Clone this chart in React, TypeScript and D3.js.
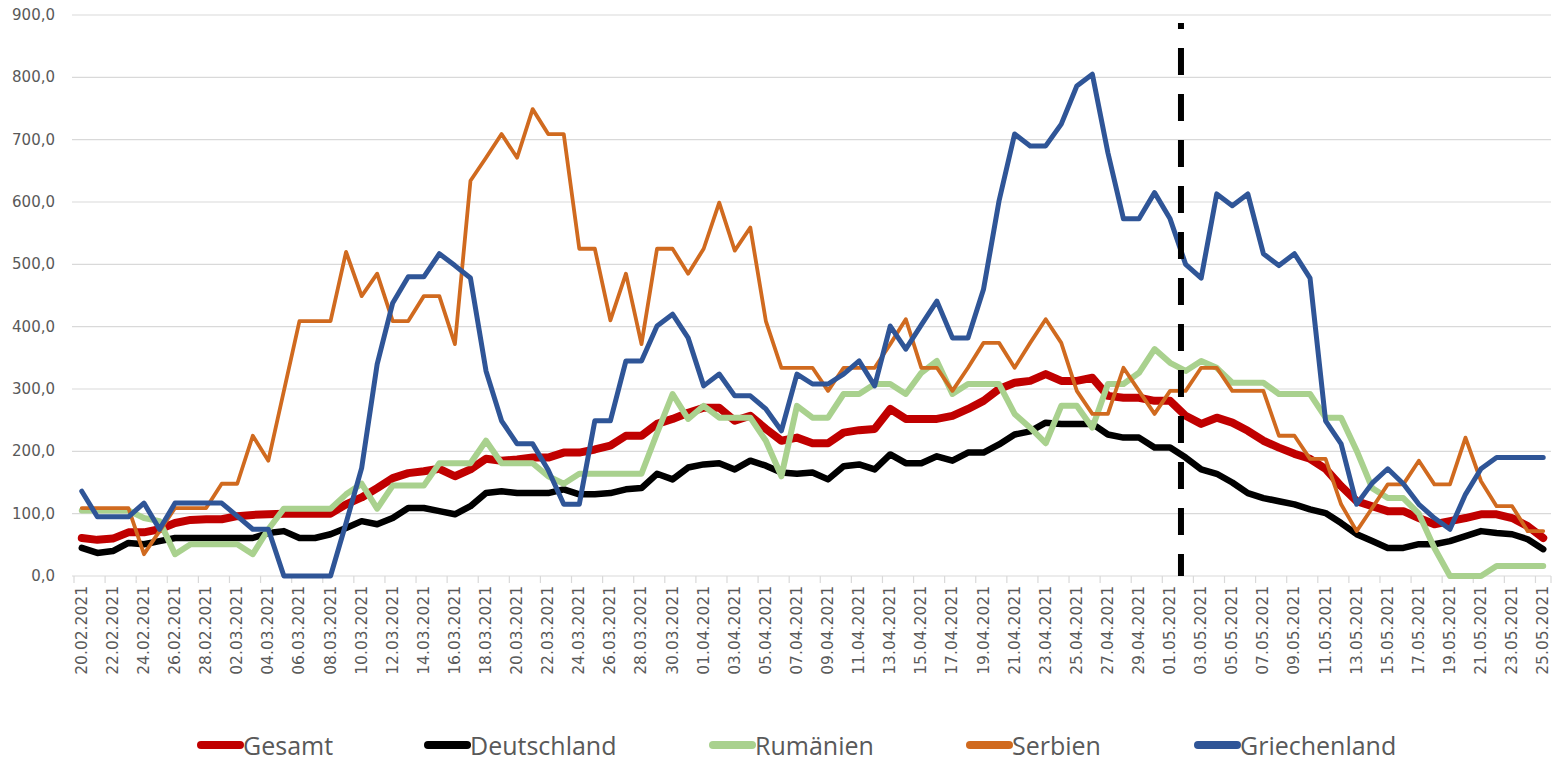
import React from "react";
import * as d3 from "d3";

// categories: one per day, 20.02.2021 – 25.05.2021
const fmtDate = d3.timeFormat("%d.%m.%Y");
const dates: string[] = d3.timeDay
  .range(new Date(2021, 1, 20), new Date(2021, 4, 26))
  .map((d) => fmtDate(d));

// series values
const gesamt = [
  61, 58, 60, 70, 70, 75, 85, 90, 91, 91,
  96, 98, 99, 100, 100, 100, 100, 115, 126, 141,
  157, 165, 168, 172, 160, 171, 188, 185, 187, 190,
  190, 198, 198, 203, 209, 225, 225, 244, 252, 262,
  270, 270, 249, 257, 236, 217, 222, 213, 213, 230,
  234, 236, 268, 252, 252, 252, 257, 268, 281, 300,
  310, 313, 324, 313, 313, 318, 289, 286, 286, 281,
  281, 257, 244, 254, 246, 233, 217, 206, 196, 188,
  172, 144, 120, 112, 104, 104, 93, 83, 88, 93,
  99, 99, 93, 80, 61,
];
const deutschland = [
  45, 37, 40, 53, 51, 56, 61, 61, 61, 61,
  61, 61, 69, 72, 61, 61, 67, 77, 88, 83,
  93, 109, 109, 104, 99, 112, 133, 136, 133, 133,
  133, 139, 131, 131, 133, 139, 141, 164, 155, 174,
  179, 181, 171, 185, 177, 166, 164, 166, 155, 176,
  179, 171, 195, 181, 181, 192, 185, 198, 198, 211,
  227, 232, 246, 244, 244, 244, 227, 222, 222, 206,
  206, 190, 171, 164, 150, 133, 125, 120, 115, 107,
  101, 85, 67, 56, 45, 45, 51, 51, 56, 64,
  72, 69, 67, 59, 43,
];
const rumaenien = [
  105, 105, 105, 105, 93, 88, 35, 51, 51, 51,
  51, 35, 75, 108, 108, 108, 108, 131, 148, 108,
  145, 145, 145, 181, 181, 181, 217, 181, 181, 181,
  160, 148, 164, 164, 164, 164, 164, 229, 292, 252,
  273, 254, 254, 254, 217, 160, 273, 254, 254, 292,
  292, 308, 308, 292, 326, 345, 292, 308, 308, 308,
  260, 238, 213, 273, 273, 238, 308, 308, 326, 364,
  342, 329, 345, 334, 310, 310, 310, 292, 292, 292,
  254, 254, 201, 141, 125, 125, 100, 45, 0, 0,
  0, 16, 16, 16, 16,
];
const serbien = [
  109, 109, 109, 109, 35, 72, 109, 109, 109, 148,
  148, 225, 185, 297, 409, 409, 409, 520, 449, 485,
  409, 409, 449, 449, 372, 634, 671, 709, 671, 749,
  709, 709, 525, 525, 410, 485, 372, 525, 525, 485,
  525, 599, 522, 559, 409, 334, 334, 334, 297, 334,
  334, 334, 372, 412, 334, 334, 297, 334, 374, 374,
  334, 374, 412, 374, 297, 260, 260, 334, 297, 260,
  297, 297, 334, 334, 297, 297, 297, 225, 225, 188,
  188, 115, 72, 109, 147, 147, 185, 147, 147, 222,
  152, 112, 112, 72, 72,
];
const griechenland = [
  136, 95, 95, 95, 117, 75, 117, 117, 117, 117,
  96, 75, 75, 0, 0, 0, 0, 85, 173, 340,
  438, 480, 480, 517, 498, 478, 329, 249, 212, 212,
  170, 115, 115, 249, 249, 345, 345, 401, 420, 382,
  305, 324, 289, 289, 268, 233, 324, 308, 308, 324,
  345, 305, 401, 364, 403, 441, 382, 382, 460, 602,
  709, 690, 690, 725, 786, 805, 679, 573, 573, 615,
  573, 500, 478, 613, 594, 613, 517, 498, 517, 478,
  249, 212, 115, 149, 172, 148, 115, 93, 75, 131,
  172, 190, 190, 190, 190,
];

const seriesNames = ["Gesamt", "Deutschland", "Rumänien", "Serbien", "Griechenland"];
const seriesValues = [gesamt, deutschland, rumaenien, serbien, griechenland];
const yTicks = [0, 100, 200, 300, 400, 500, 600, 700, 800, 900];

// dashed marker: just after 01.05.2021
const markerDate = "01.05.2021";
const markerOffset = 0.7;
const markerTop = 887;

// styles
const colors = ["#C00000", "#000000", "#A9D18E", "#D06A1F", "#2F5597"];
const widths = [8, 6.5, 6, 3.8, 5];
const legendX = [198, 425, 710, 967, 1195];

const W = 1557;
const H = 761;

export default function App() {
  const x = d3.scaleBand<string>().domain(dates).range([74, 1551]);
  const bw = x.bandwidth();
  const cx = (d: string) => (x(d) as number) + bw / 2;
  const y = d3.scaleLinear().domain([0, 900]).range([576, 15]);

  const line = d3
    .line<number>()
    .x((_, i) => cx(dates[i]))
    .y((v) => y(v));

  const fmtY = (v: number) => d3.format(".1f")(v).replace(".", ",");
  const markerX = cx(markerDate) + markerOffset * bw;

  return (
    <svg
      width={W}
      height={H}
      style={{ position: "absolute", left: 0, top: 0, background: "#fff" }}
    >
      {/* gridlines + y labels */}
      {yTicks.map((t) => (
        <g key={t}>
          <line x1={72} x2={1551} y1={y(t)} y2={y(t)} stroke="#D9D9D9" strokeWidth={1.2} />
          <text
            x={55}
            y={y(t)}
            textAnchor="end"
            dominantBaseline="central"
            fontFamily="DejaVu Sans"
            fontSize={15}
            fill="#595959"
          >
            {fmtY(t)}
          </text>
        </g>
      ))}

      {/* x ticks (between categories, every 2nd) and labels */}
      {dates.map((d, i) =>
        i % 2 === 0 ? (
          <g key={d}>
            <line x1={x(d)} x2={x(d)} y1={576} y2={583} stroke="#D9D9D9" strokeWidth={1.2} />
            <text
              transform={`translate(${cx(d)},586) rotate(-90)`}
              textAnchor="end"
              dominantBaseline="central"
              fontFamily="DejaVu Sans"
              fontSize={15.5}
              fill="#595959"
            >
              {d}
            </text>
          </g>
        ) : null
      )}
      <line x1={1551} x2={1551} y1={576} y2={583} stroke="#D9D9D9" strokeWidth={1.2} />

      {/* series */}
      {seriesValues.map((vals, k) => (
        <path
          key={seriesNames[k]}
          d={line(vals) ?? ""}
          fill="none"
          stroke={colors[k]}
          strokeWidth={widths[k]}
          strokeLinejoin="round"
          strokeLinecap="round"
        />
      ))}

      {/* dashed vertical marker */}
      <line
        x1={markerX}
        x2={markerX}
        y1={y(markerTop)}
        y2={y(0)}
        stroke="#000"
        strokeWidth={6}
        strokeDasharray="27 19"
        strokeDashoffset={21}
      />

      {/* legend */}
      {seriesNames.map((name, k) => (
        <g key={name} transform={`translate(${legendX[k]},745)`}>
          <line x1={3} x2={42} y1={0} y2={0} stroke={colors[k]} strokeWidth={8} strokeLinecap="round" />
          <text
            x={45}
            y={0}
            dominantBaseline="central"
            fontFamily="Open Sans"
            fontSize={25}
            fill="#595959"
          >
            {name}
          </text>
        </g>
      ))}
    </svg>
  );
}
